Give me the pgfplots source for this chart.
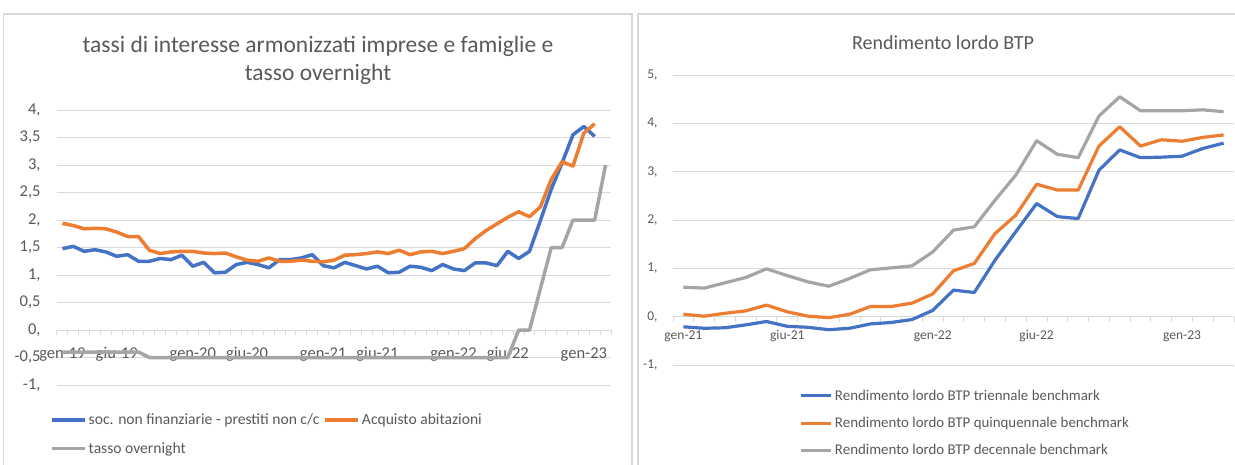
\documentclass[border=0pt]{standalone}
\usepackage{pgfplots}
\pgfplotsset{compat=1.18}
\usepackage{pgfplotstable}
\usepackage{fontspec}
\setmainfont{Carlito}
\definecolor{cblue}{HTML}{4472C4}
\definecolor{corange}{HTML}{ED7D31}
\definecolor{cgray}{HTML}{A5A5A5}
\definecolor{ctext}{HTML}{595959}
\definecolor{cgrid}{HTML}{D9D9D9}

\pgfplotstableread{
i soc abit on
0 1.48 1.94 -0.4
1 1.52 1.90 -0.4
2 1.43 1.84 -0.4
3 1.46 1.85 -0.4
4 1.42 1.84 -0.4
5 1.34 1.78 -0.4
6 1.37 1.70 -0.4
7 1.25 1.70 -0.4
8 1.25 1.45 -0.5
9 1.30 1.39 -0.5
10 1.28 1.42 -0.5
11 1.36 1.43 -0.5
12 1.16 1.43 -0.5
13 1.23 1.40 -0.5
14 1.04 1.39 -0.5
15 1.05 1.40 -0.5
16 1.19 1.33 -0.5
17 1.23 1.27 -0.5
18 1.19 1.25 -0.5
19 1.13 1.31 -0.5
20 1.28 1.25 -0.5
21 1.28 1.25 -0.5
22 1.31 1.27 -0.5
23 1.37 1.25 -0.5
24 1.17 1.24 -0.5
25 1.13 1.27 -0.5
26 1.23 1.36 -0.5
27 1.17 1.37 -0.5
28 1.11 1.39 -0.5
29 1.16 1.42 -0.5
30 1.04 1.39 -0.5
31 1.05 1.45 -0.5
32 1.16 1.37 -0.5
33 1.14 1.42 -0.5
34 1.08 1.43 -0.5
35 1.19 1.39 -0.5
36 1.11 1.43 -0.5
37 1.08 1.48 -0.5
38 1.22 1.66 -0.5
39 1.22 1.81 -0.5
40 1.17 1.93 -0.5
41 1.43 2.05 -0.5
42 1.30 2.15 0
43 1.43 2.06 0
44 1.99 2.24 0.75
45 2.56 2.74 1.5
46 3.04 3.06 1.5
47 3.55 2.98 2
48 3.70 3.58 2
49 3.52 3.75 2
50 nan nan 3
}\lefttab

\pgfplotstableread{
i tri quin dec
0 -0.21 0.05 0.61
1 -0.24 0.01 0.59
2 -0.23 0.07 0.70
3 -0.17 0.12 0.81
4 -0.10 0.24 0.99
5 -0.20 0.10 0.85
6 -0.22 0.01 0.72
7 -0.27 -0.02 0.63
8 -0.24 0.05 0.79
9 -0.15 0.21 0.97
10 -0.12 0.21 1.01
11 -0.06 0.28 1.05
12 0.13 0.47 1.34
13 0.55 0.95 1.79
14 0.50 1.10 1.86
15 1.17 1.72 2.41
16 1.76 2.10 2.93
17 2.34 2.74 3.64
18 2.07 2.62 3.36
19 2.03 2.62 3.29
20 3.03 3.53 4.15
21 3.45 3.93 4.55
22 3.29 3.53 4.26
23 3.30 3.66 4.26
24 3.32 3.63 4.26
25 3.48 3.71 4.28
26 3.59 3.76 4.24
}\righttab

\pgfplotsset{
  xlstyle/.style={
    scale only axis,
    axis x line=middle, axis y line=left,
    hide obscured x ticks=false, hide obscured y ticks=false,
    x axis line style={draw=cgrid, line width=1pt, -},
    y axis line style={draw=none},
    ytick style={draw=none},
    every major x tick/.append style={draw=none},
    every minor x tick/.append style={draw=cgrid, line width=1pt},
    minor tick length=5pt, tick align=outside,
    ymajorgrids, grid style={cgrid, line width=1pt},
    tick label style={text=ctext},
    yticklabel style={anchor=east, inner sep=0pt},
    legend cell align=left,
    legend style={draw=none, fill=none, inner sep=0pt, text=ctext,
      nodes={inner xsep=2pt, inner ysep=0pt}},
    legend image code/.code={\draw[##1, line width=3.5pt] (0pt,0pt) -- (33pt,0pt);},
  }
}

\begin{document}
\begin{tikzpicture}
\useasboundingbox (0,0) rectangle (1235pt,464pt);
\draw[cgrid, line width=1.5pt] (3.5pt,-20pt) rectangle (632pt,450pt);
\draw[cgrid, line width=1.5pt] (638pt,-20pt) rectangle (1250pt,450pt);

\node[text=ctext, font=\fontsize{23.5}{28}\selectfont, align=center] at (318pt,404pt)
  {tassi di interesse armonizzati imprese e famiglie e\\tasso overnight};
\node[text=ctext, font=\fontsize{20}{24}\selectfont] at (943pt,421pt) {Rendimento lordo BTP};

\begin{axis}[xlstyle,
  at={(57pt,79pt)}, anchor=south west,
  width=554pt, height=275pt,
  xmin=-0.5, xmax=50.5, ymin=-1, ymax=4,
  ytick={-1,-0.5,0,0.5,1,1.5,2,2.5,3,3.5,4},
  yticklabels={{-1,},{-0,5},{0,},{0,5},{1,},{1,5},{2,},{2,5},{3,},{3,5},{4,}},
  xtick={0,5,12,17,24,29,36,41,48},
  xticklabels={gen-19,giu-19,gen-20,giu-20,gen-21,giu-21,gen-22,giu-22,gen-23},
  minor xtick={-0.5,0.5,...,50.5},
  tick label style={font=\fontsize{16.5}{19}\selectfont},
  xticklabel style={anchor=base, yshift=-24pt},
  yticklabel style={xshift=-12pt},
  legend columns=2,
  legend style={at={(-0.0126,-0.105)}, anchor=north west,
    font=\fontsize{15.6}{18}\selectfont,
    /tikz/every even column/.append style={column sep=2pt},
    row sep=16pt},
]
\addplot[cblue, line width=3.5pt, line join=round] table[x=i, y=soc] {\lefttab};
\addlegendentry{soc. non finanziarie - prestiti non c/c}
\addplot[corange, line width=3.5pt, line join=round] table[x=i, y=abit] {\lefttab};
\addlegendentry{Acquisto abitazioni}
\addplot[cgray, line width=3.5pt, line join=round] table[x=i, y=on] {\lefttab};
\addlegendentry{tasso overnight}
\end{axis}

\begin{axis}[xlstyle,
  at={(673pt,99pt)}, anchor=south west,
  width=561pt, height=290pt,
  xmin=-0.5, xmax=26.5, ymin=-1, ymax=5,
  ytick={-1,0,1,2,3,4,5},
  yticklabels={{-1,},{0,},{1,},{2,},{3,},{4,},{5,}},
  xtick={0,5,12,17,24},
  xticklabels={gen-21,giu-21,gen-22,giu-22,gen-23},
  minor xtick={-0.5,0.5,...,26.5},
  tick label style={font=\fontsize{13.5}{15}\selectfont},
  xticklabel style={anchor=base, yshift=-19pt},
  yticklabel style={xshift=-11pt},
  legend columns=1,
  legend style={at={(0.226,-0.085)}, anchor=north west,
    font=\fontsize{14.9}{17}\selectfont, row sep=15.5pt},
  legend image code/.code={\draw[#1, line width=3pt] (0pt,0pt) -- (30pt,0pt);},
]
\addplot[cblue, line width=3.2pt, line join=round] table[x=i, y=tri] {\righttab};
\addlegendentry{Rendimento lordo BTP triennale benchmark}
\addplot[corange, line width=3.2pt, line join=round] table[x=i, y=quin] {\righttab};
\addlegendentry{Rendimento lordo BTP quinquennale benchmark}
\addplot[cgray, line width=3.2pt, line join=round] table[x=i, y=dec] {\righttab};
\addlegendentry{Rendimento lordo BTP decennale benchmark}
\end{axis}
\end{tikzpicture}
\end{document}
